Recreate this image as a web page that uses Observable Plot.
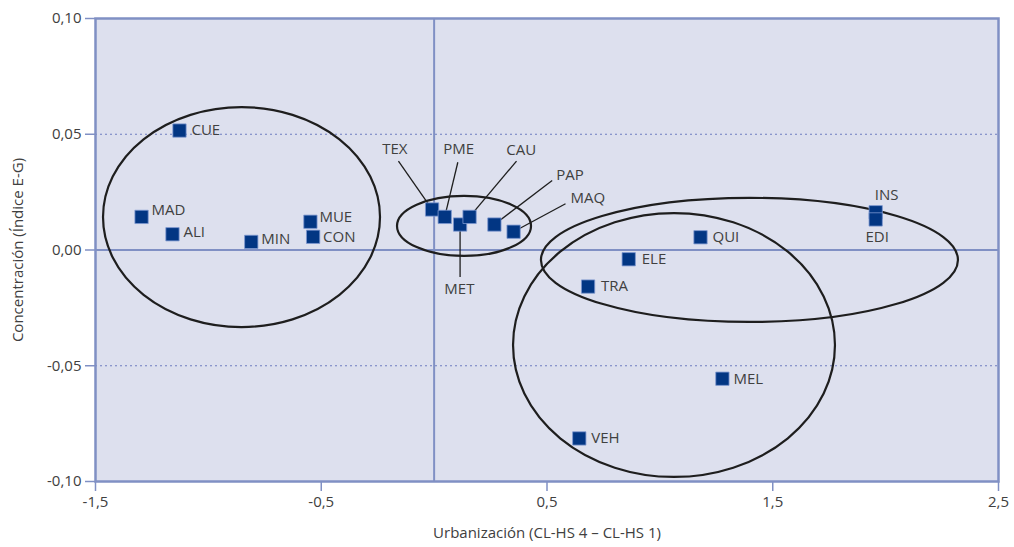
<!DOCTYPE html>
<html>
<head>
<meta charset="utf-8">
<script src="https://cdn.jsdelivr.net/npm/d3@7"></script>
<script src="https://cdn.jsdelivr.net/npm/@observablehq/plot@0.6"></script>
<style>
  body { margin: 0; background: #ffffff; }
  #chart svg { display: block; }
</style>
</head>
<body>
<div id="chart"></div>
<script>
// ---- Data ----
const codes = ["CUE","MAD","ALI","MIN","MUE","CON","TEX","PME","MET","CAU","PAP","MAQ","QUI","ELE","TRA","INS","EDI","MEL","VEH"];
const urbanizacion = [-1.128,-1.296,-1.159,-0.810,-0.548,-0.536,-0.009,0.047,0.115,0.157,0.267,0.352,1.180,0.862,0.682,1.956,1.956,1.277,0.643];
const concentracion = [0.0516,0.0143,0.0068,0.0035,0.0122,0.0057,0.0175,0.0143,0.0110,0.0143,0.0110,0.0079,0.0055,-0.0040,-0.0158,0.0163,0.0132,-0.0556,-0.0814];

// Labels attached with leader lines (label anchor and leader end, in data units)
const leaderCodes = ["TEX","PME","CAU","PAP","MAQ","MET"];
const leaderEndX = [-0.158,0.105,0.365,0.523,0.582,0.115];
const leaderEndY = [0.0384,0.0379,0.0384,0.0300,0.0200,-0.0117];
const leaderLabelX = [-0.174,0.109,0.386,0.541,0.604,0.112];
const leaderLabelY = [0.0437,0.0437,0.0433,0.0322,0.0225,-0.0168];

// Cluster ellipses (centre and radii in data units)
const ellipseCX = [-0.851,0.1346,1.399,1.0648];
const ellipseCY = [0.0140,0.0102,-0.0045,-0.04125];
const ellipseRX = [0.6135,0.2968,0.9236,0.713];
const ellipseRY = [0.0475,0.01296,0.0268,0.0570];

// Axis ticks and titles
const xTicks = [-1.5,-0.5,0.5,1.5,2.5];
const yTicks = [-0.10,-0.05,0,0.05,0.10];
const dottedLevels = [-0.05,0.05];
const xTitle = "Urbanización (CL-HS 4 – CL-HS 1)";
const yTitle = "Concentración (Índice E-G)";

// ---- Build tables ----
const points = codes.map((c, i) => ({code: c, x: urbanizacion[i], y: concentracion[i]}));
const leaders = leaderCodes.map((c, i) => {
  const p = points.find(d => d.code === c);
  return {code: c, x1: p.x, y1: p.y, x2: leaderEndX[i], y2: leaderEndY[i], lx: leaderLabelX[i], ly: leaderLabelY[i]};
});
const ellipses = ellipseCX.map((cx, i) => ({cx, cy: ellipseCY[i], rx: ellipseRX[i], ry: ellipseRY[i]}));

// label placement (pixel offsets) for directly labelled points
const placement = {
  CUE: [12, 0, "start"], MAD: [10, -6.5, "start"], ALI: [11, -2, "start"], MIN: [10, -2.5, "start"],
  MUE: [9, -4.5, "start"], CON: [10, 0, "start"], QUI: [12, 0, "start"], ELE: [13, 0, "start"],
  TRA: [13, 0, "start"], MEL: [11, 0, "start"], VEH: [12, 0, "start"],
  INS: [11, -17.5, "middle"], EDI: [1.5, 17.7, "middle"]
};
const direct = points.filter(d => placement[d.code]);
const groups = d3.groups(direct, d => placement[d.code].join("|"));

const axisColor = "#8090c4";
const textColor = "#404040";
const FS = 15;
const fmt = (digits) => (v) => d3.format(`.${digits}f`)(v).replace(".", ",").replace("−", "-");

function ellipseMark(index, scales) {
  const g = d3.create("svg:g").attr("fill", "none").attr("stroke", "#1e1e1e").attr("stroke-width", 2.2);
  for (const e of ellipses) {
    const cx = scales.x(e.cx), cy = scales.y(e.cy);
    g.append("ellipse")
      .attr("cx", cx).attr("cy", cy)
      .attr("rx", Math.abs(scales.x(e.cx + e.rx) - cx))
      .attr("ry", Math.abs(scales.y(e.cy + e.ry) - cy));
  }
  return g.node();
}

const chart = Plot.plot({
  width: 1014,
  height: 547,
  marginLeft: 95,
  marginRight: 16,
  marginTop: 18,
  marginBottom: 66,
  style: {fontFamily: "'Open Sans', 'Noto Sans', sans-serif", fontSize: `${FS}px`, color: textColor, background: "#ffffff"},
  x: {domain: [-1.5, 2.5]},
  y: {domain: [-0.1, 0.1]},
  marks: [
    Plot.frame({fill: "#dde0ee", stroke: "none"}),
    Plot.ruleY(dottedLevels, {stroke: "#6e7cc0", strokeWidth: 1, strokeDasharray: "2,3"}),
    Plot.ruleY([0], {stroke: axisColor, strokeWidth: 2}),
    Plot.ruleX([0], {stroke: axisColor, strokeWidth: 2}),
    ellipseMark,
    Plot.link(leaders, {x1: "x1", y1: "y1", x2: "x2", y2: "y2", stroke: "#1e1e1e", strokeWidth: 1.3}),
    Plot.dot(points, {x: "x", y: "y", symbol: "square", r: 7.5, fill: "#023683", stroke: "#7d98d0", strokeWidth: 0.8}),
    ...groups.map(([key, rows]) => {
      const [dx, dy, anchor] = placement[rows[0].code];
      return Plot.text(rows, {x: "x", y: "y", text: "code", dx, dy, textAnchor: anchor, fill: textColor, fontSize: FS});
    }),
    Plot.text(leaders.filter(d => d.code === "PAP" || d.code === "MAQ"), {x: "lx", y: "ly", text: "code", textAnchor: "start", fill: textColor, fontSize: FS}),
    Plot.text(leaders.filter(d => d.code !== "PAP" && d.code !== "MAQ"), {x: "lx", y: "ly", text: "code", textAnchor: "middle", fill: textColor, fontSize: FS}),
    Plot.frame({stroke: axisColor, strokeWidth: 2.5}),
    Plot.axisX(xTicks, {tickFormat: fmt(1), tickSize: 10, tickPadding: 5, stroke: axisColor, strokeWidth: 1.5, fill: textColor, fontSize: FS, label: null}),
    Plot.axisY(yTicks, {tickFormat: fmt(2), tickSize: 10, tickPadding: 4, stroke: axisColor, strokeWidth: 1.5, fill: textColor, fontSize: FS, label: null}),
    Plot.text([xTitle], {text: d => d, frameAnchor: "bottom", dy: 56, textAnchor: "middle", fill: textColor, fontSize: FS}),
    Plot.text([yTitle], {text: d => d, frameAnchor: "left", dx: -77, rotate: -90, textAnchor: "middle", fill: textColor, fontSize: FS})
  ]
});

document.getElementById("chart").appendChild(chart);
</script>
</body>
</html>
